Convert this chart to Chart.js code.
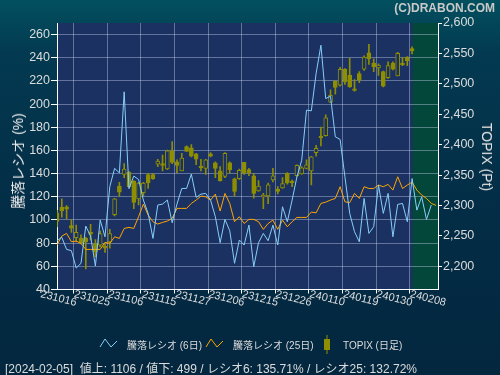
<!DOCTYPE html>
<html>
<head>
<meta charset="utf-8">
<script src="https://cdn.jsdelivr.net/npm/chart.js@4.4.1/dist/chart.umd.min.js"></script>
<style>
  body { margin: 0; width: 500px; height: 375px; overflow: hidden;
         background: linear-gradient(180deg, #02505f 0%, #033a51 14%, #032d46 55%, #03273f 100%);
         font-family: "Liberation Sans", "Noto Sans CJK JP", sans-serif; }
  #wrap { position: relative; width: 500px; height: 375px; }
  #wrap canvas { position: absolute; left: 0; top: 0; }
  .txt { position: absolute; white-space: nowrap; color: #dcdcdc; }
  .rot { transform: translate(-50%, -50%) rotate(-90deg); }
  .rot90 { transform: translate(-50%, -50%) rotate(90deg); }
  svg { position: absolute; }
</style>
</head>
<body>
<div id="wrap">
  <canvas id="chart" width="500" height="375"></canvas>
  <div class="txt" style="right:5px;top:1px;font-size:12px;font-weight:bold;color:#c9c9c9;">(C)DRABON.COM</div>
  <div class="txt rot" style="left:17px;top:161px;font-size:14px;color:#e8e8e8;">騰落レシオ (%)</div>
  <div class="txt rot90" style="left:487px;top:157px;font-size:14px;color:#e0e0e0;">TOPIX (Pt)</div>

  <svg style="left:99px;top:336px" width="20" height="14"><polyline points="1,11 6,3 12,11 18,5" fill="none" stroke="#87cefa" stroke-width="1"/></svg>
  <div class="txt" style="left:127px;top:337px;font-size:10px;">騰落レシオ (6日)</div>
  <svg style="left:205px;top:336px" width="20" height="14"><polyline points="1,11 6,3 12,11 18,5" fill="none" stroke="#ffa500" stroke-width="1"/></svg>
  <div class="txt" style="left:233px;top:337px;font-size:10px;">騰落レシオ (25日)</div>
  <svg style="left:321px;top:334px" width="12" height="22"><line x1="6" y1="1" x2="6" y2="20" stroke="#8e8e00" stroke-width="1"/><rect x="3" y="5" width="6" height="11" fill="#8e8e00"/></svg>
  <div class="txt" style="left:343px;top:337px;font-size:10px;">TOPIX (日足)</div>

  <div class="txt" style="left:5px;top:359px;font-size:12px;">[2024-02-05]&nbsp; 値上: 1106 / 値下: 499 / レシオ6: 135.71% / レシオ25: 132.72%</div>
</div>

<script>
// x tick labels (every 7 trading days)
const xLabels = ['231016','231025','231106','231115','231127','231206','231215','231226','240110','240119','240130','240208'];
const leftTicks = [40,60,80,100,120,140,160,180,200,220,240,260];
const topixTicks = [2200,2250,2300,2350,2400,2450,2500,2550,2600];

// 騰落レシオ 6日
const ratio6 = [82.1,85.0,74.6,73.5,58.5,62.6,94.7,86.1,60.3,99.9,
  85.5,128.7,144.5,140.7,210.6,127,137.9,135,117.2,105.7,
  84.1,112.9,113.7,117.2,97.6,113.7,127.2,127.2,139.6,119.5,
  122.3,122.9,117.2,102.8,80.4,100.5,90.7,62.6,82.7,78.4,
  95.6,59.7,80.4,88.4,82.1,95.6,78.4,111.4,98.5,117.2,
  137.3,151.6,194.8,194.2,226.4,250.8,204.8,206.8,171.8,169.5,
  137.3,105.7,89.9,81.2,118.6,88.4,94.2,130.1,105.7,122.9,
  85.5,113.4,114.3,98.5,135.7,108.5,120.0,100.5,112.9];

// 騰落レシオ 25日
const ratio25 = [78.4,86.1,88.4,81.2,81.8,79.8,74.6,74.6,74.6,74.6,
  80.7,79.8,85.5,84.1,92.7,93.6,92.7,102.8,113.7,104.2,
  98.5,96.5,97.9,99.1,101.4,110,110,110,114.3,117.2,
  120.6,120.0,117.2,122.3,107.7,122.9,114.3,98.5,102.8,97.0,
  100.5,100.5,98.5,91.9,97.0,99.9,91.9,99.9,94.2,98.5,
  102.2,102.2,102.2,106.8,106.2,114.3,115.4,117.2,118.6,128.7,
  115.7,114.9,122.9,118.6,128.7,127.2,127.2,130.1,128.7,130.7,
  125.8,137.3,127.2,130.1,132.7,125.8,121.5,118.6,114.3,112.6];

// TOPIX daily candles
const topixOpen  = [2288,2297,2298,2267,2247,2246,2246,2256,2237,2235,2233,2240,2285,2332,2351,2355,2340,2311,2321,2351,
  2351,2368,2369,2360,2390,2372,2357,2397,2395,2385,2365,2361,2385,2370,2357,2348,2370,2344,2344,2371,
  2359,2349,2324,2314,2316,2342,2327,2329,2353,2340,2349,2352,2361,2357,2387,2414,2415,2470,2504,2498,
  2524,2514,2492,2517,2524,2551,2534,2526,2520,2510,2534,2513,2534,2544,2558];
const topixHigh  = [2292,2311,2300,2277,2268,2252,2248,2269,2244,2258,2238,2261,2312,2338,2369,2356,2341,2338,2338,2353,
  2353,2376,2383,2391,2405,2375,2386,2398,2400,2386,2376,2376,2387,2372,2364,2387,2372,2345,2360,2371,
  2361,2353,2341,2320,2337,2361,2331,2346,2354,2342,2367,2364,2375,2381,2399,2429,2449,2490,2505,2527,
  2525,2542,2507,2520,2546,2565,2541,2533,2521,2536,2536,2552,2543,2545,2561];
const topixLow   = [2265,2281,2278,2256,2240,2237,2196,2243,2216,2232,2223,2230,2283,2315,2346,2330,2295,2301,2316,2328,
  2343,2364,2357,2359,2369,2354,2357,2389,2380,2367,2357,2351,2380,2346,2340,2346,2353,2316,2343,2351,
  2349,2312,2323,2295,2303,2339,2319,2328,2335,2331,2348,2351,2360,2334,2381,2398,2414,2469,2483,2496,
  2499,2494,2488,2502,2522,2532,2520,2514,2495,2509,2523,2513,2530,2530,2549];
const topixClose = [2274,2291,2294,2263,2256,2238,2240,2253,2224,2254,2230,2254,2311,2322,2360,2331,2305,2337,2337,2337,
  2344,2373,2366,2390,2371,2366,2378,2389,2381,2376,2362,2375,2381,2361,2341,2386,2359,2323,2358,2353,
  2354,2320,2332,2317,2334,2349,2323,2336,2337,2337,2366,2362,2367,2380,2394,2411,2444,2481,2494,2524,
  2503,2495,2489,2507,2544,2541,2528,2531,2496,2530,2524,2550,2531,2538,2554];

const olive = '#8e8e00';
const plotBg = '#1b3162';
const greenBg = '#03463a';
const gridColor = 'rgba(200,210,235,0.42)';

const bgPlugin = {
  id: 'bg',
  beforeDraw(chart) {
    const { ctx, chartArea: a, scales } = chart;
    ctx.save();
    ctx.fillStyle = plotBg;
    ctx.fillRect(a.left, a.top, a.right - a.left, a.bottom - a.top);
    const gx = scales.x.getPixelForValue(74.1);
    ctx.fillStyle = greenBg;
    ctx.fillRect(gx, a.top, a.right - gx, a.bottom - a.top);
    ctx.restore();
  },
  afterDraw(chart) {
    const { ctx, scales } = chart;
    ctx.save();
    ctx.fillStyle = '#dcdcdc';
    ctx.font = '11px "Liberation Sans", sans-serif';
    ctx.textAlign = 'center';
    ctx.textBaseline = 'middle';
    xLabels.forEach((lab, k) => {
      const px = scales.x.getPixelForValue(k * 7);
      ctx.save();
      ctx.translate(px + 1.5, 298.5);
      ctx.rotate(14 * Math.PI / 180);
      ctx.fillText(lab, 0, 0);
      ctx.restore();
    });
    ctx.restore();
  }
};

new Chart(document.getElementById('chart'), {
  data: {
    datasets: [
      { type: 'line', label: '騰落レシオ (6日)', data: ratio6.map((v, i) => ({ x: i, y: v })),
        borderColor: '#87cefa', borderWidth: 1, pointRadius: 0, tension: 0, yAxisID: 'y', order: 1 },
      { type: 'line', label: '騰落レシオ (25日)', data: ratio25.map((v, i) => ({ x: i, y: v })),
        borderColor: '#ffa500', borderWidth: 1, pointRadius: 0, tension: 0, yAxisID: 'y', order: 2 },
      { type: 'bar', label: 'wick', data: topixHigh.map((h, i) => ({ x: i, y: [topixLow[i], h] })),
        backgroundColor: olive, barThickness: 1, grouped: false, yAxisID: 'y2', order: 4 },
      { type: 'bar', label: 'TOPIX (日足)', data: topixOpen.map((o, i) => ({ x: i, y: [o, topixClose[i]] })),
        backgroundColor: topixOpen.map((o, i) => topixClose[i] < o ? olive : plotBg),
        borderColor: olive, borderWidth: 1, borderSkipped: false, barThickness: 4,
        minBarLength: 1, grouped: false, yAxisID: 'y2', order: 3 }
    ]
  },
  options: {
    responsive: false,
    animation: false,
    layout: { padding: { top: 23, left: 0, right: 0, bottom: 0 } },
    plugins: { legend: { display: false }, tooltip: { enabled: false } },
    scales: {
      x: {
        type: 'linear', min: 0, max: 79.4, offset: false,
        afterBuildTicks: s => { s.ticks = xLabels.map((l, k) => ({ value: k * 7 })); },
        afterFit: s => { s.height = 85.5; },
        ticks: { display: false },
        grid: { color: gridColor, tickLength: 4, tickColor: '#ffffff' },
        border: { color: '#ffffff' }
      },
      y: {
        position: 'left', min: 40, max: 270,
        afterBuildTicks: s => { s.ticks = leftTicks.map(v => ({ value: v })); },
        afterFit: s => { s.width = 57; },
        ticks: { color: '#dcdcdc', padding: 1, font: { size: 12.5, family: '"Liberation Sans", sans-serif' } },
        grid: { color: gridColor, tickLength: 6, tickColor: '#ffffff' },
        border: { color: '#ffffff' }
      },
      y2: {
        position: 'right', min: 2162, max: 2600,
        afterBuildTicks: s => { s.ticks = topixTicks.map(v => ({ value: v })); },
        afterFit: s => { s.width = 62; },
        ticks: { color: '#dcdcdc', padding: 1, font: { size: 12.5, family: '"Liberation Sans", sans-serif' },
                 callback: v => v.toLocaleString('en-US') },
        grid: { drawOnChartArea: false, tickLength: 4, tickColor: '#ffffff' },
        border: { color: '#ffffff' }
      }
    }
  },
  plugins: [bgPlugin]
});
</script>
</body>
</html>
